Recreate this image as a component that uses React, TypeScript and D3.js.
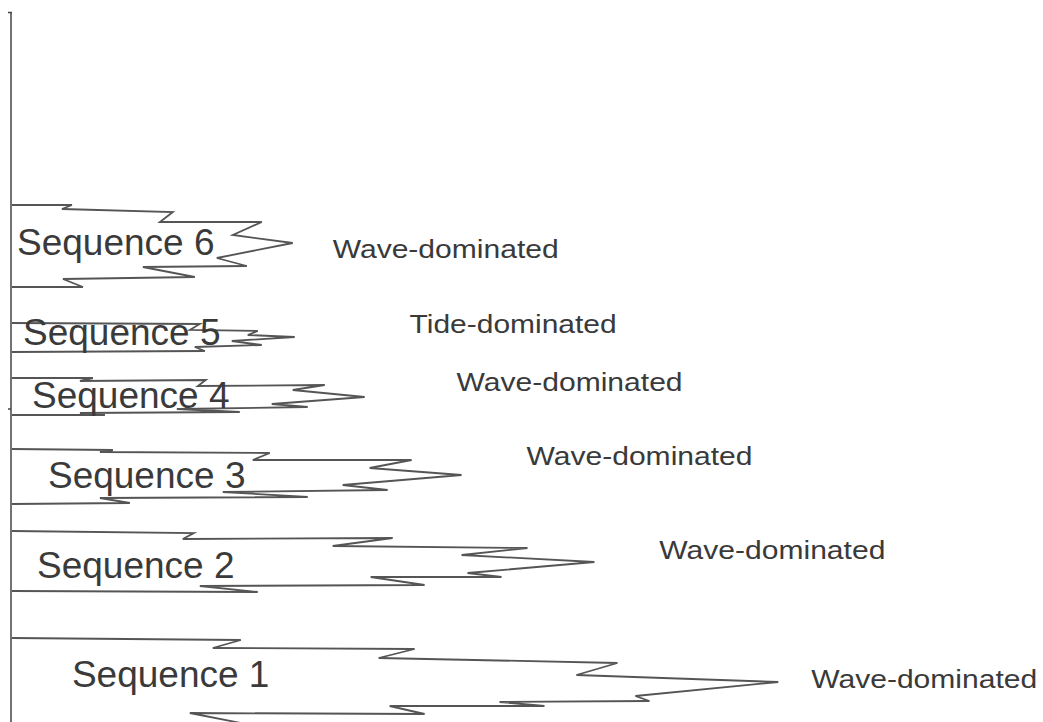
import React, { useEffect, useRef } from "react";
import * as d3 from "d3";

// Outline of each sequence: [distance from axis, depth] going clockwise from top-left
const seq6 = [[0, 205], [60, 205], [50, 209], [161, 212], [148, 222], [250, 222], [221, 235], [281, 243], [205, 258], [235, 266], [131, 267], [183, 277], [51, 279], [71, 287], [0, 287]];
const seq5 = [[0, 323], [188, 324], [178, 330], [246, 331], [236, 335], [283, 337], [220, 341], [250, 345], [183, 347], [193, 351], [0, 352]];
const seq4 = [[0, 378], [81, 378], [68, 381], [194, 380], [186, 386], [313, 385], [281, 390], [353, 397], [260, 404], [296, 407], [165, 409], [228, 412], [68, 413], [93, 415], [0, 415]];
const seq3 = [[0, 449], [101, 450], [88, 452], [258, 453], [241, 460], [400, 460], [358, 468], [450, 475], [331, 485], [376, 490], [211, 492], [296, 497], [88, 498], [118, 503], [0, 504]];
const seq2 = [[0, 531], [182, 533], [171, 539], [381, 538], [321, 546], [516, 548], [450, 555], [583, 562], [456, 573], [490, 577], [359, 577], [413, 585], [188, 586], [246, 592], [0, 591]];
const seq1 = [[0, 638], [229, 640], [201, 648], [403, 649], [367, 658], [606, 663], [565, 675], [767, 682], [624, 696], [638, 701], [488, 702], [533, 706], [378, 706], [413, 714], [178, 713], [234, 724], [0, 726]];

const outlines = [seq1, seq2, seq3, seq4, seq5, seq6];
const sequenceNames = ["Sequence 1", "Sequence 2", "Sequence 3", "Sequence 4", "Sequence 5", "Sequence 6"];
const facies = ["Wave-dominated", "Wave-dominated", "Wave-dominated", "Wave-dominated", "Tide-dominated", "Wave-dominated"];

// label anchors, in the same units as the outlines
const nameAnchors = [[60, 687], [25, 578], [36, 488], [20, 408], [11, 345], [5, 255]];
const faciesAnchors = [[800, 688], [648, 559], [515, 465], [445, 391], [398, 333], [321, 258]];

const W = 1043;
const H = 722;
const AXIS_X = 11;

const App = () => {
    const svgRef = useRef(null);

    useEffect(() => {
        document.body.style.margin = "0";
        const svg = d3.select(svgRef.current);
        svg.selectAll("*").remove();

        const xScale = d3.scaleLinear().domain([0, W - AXIS_X]).range([AXIS_X + 1, W]);
        const yScale = d3.scaleLinear().domain([0, H]).range([0, H]);

        const line = d3
            .line<number[]>()
            .x((d) => xScale(d[0]))
            .y((d) => yScale(d[1]));

        // vertical axis with the little ticks
        svg.append("line")
            .attr("x1", AXIS_X).attr("x2", AXIS_X)
            .attr("y1", yScale(12)).attr("y2", yScale(H))
            .attr("stroke", "#444").attr("stroke-width", 1.5);
        svg.append("line")
            .attr("x1", AXIS_X - 3).attr("x2", AXIS_X + 1)
            .attr("y1", yScale(12.5)).attr("y2", yScale(12.5))
            .attr("stroke", "#444").attr("stroke-width", 1.5);
        svg.append("line")
            .attr("x1", AXIS_X - 3).attr("x2", AXIS_X)
            .attr("y1", yScale(409)).attr("y2", yScale(409))
            .attr("stroke", "#444").attr("stroke-width", 1.5);

        // zigzag outlines
        svg.selectAll("path.seq")
            .data(outlines)
            .enter()
            .append("path")
            .attr("class", "seq")
            .attr("fill", "none")
            .attr("stroke", "#555")
            .attr("stroke-width", 1.8)
            .attr("stroke-linejoin", "miter")
            .attr("d", line);

        // sequence names
        svg.selectAll("text.name")
            .data(sequenceNames)
            .enter()
            .append("text")
            .attr("class", "name")
            .attr("x", (d, i) => xScale(nameAnchors[i][0]))
            .attr("y", (d, i) => yScale(nameAnchors[i][1]))
            .attr("fill", "#3a3a3a")
            .style("font-family", "'Liberation Sans', Arial, sans-serif")
            .style("font-size", "37px")
            .text((d) => d);

        // depositional setting labels
        svg.selectAll("text.facies")
            .data(facies)
            .enter()
            .append("text")
            .attr("class", "facies")
            .attr("x", (d, i) => xScale(faciesAnchors[i][0]))
            .attr("y", (d, i) => yScale(faciesAnchors[i][1]))
            .attr("fill", "#3a3a3a")
            .attr("textLength", (d) => (d.startsWith("Tide") ? 207 : 226))
            .attr("lengthAdjust", "spacingAndGlyphs")
            .style("font-family", "'Liberation Sans', Arial, sans-serif")
            .style("font-size", "25px")
            .text((d) => d);
    }, []);

    return (
        <div style={{ width: W, height: H, background: "#fff" }}>
            <svg ref={svgRef} width={W} height={H} style={{ display: "block" }}></svg>
        </div>
    );
};

export default App;
